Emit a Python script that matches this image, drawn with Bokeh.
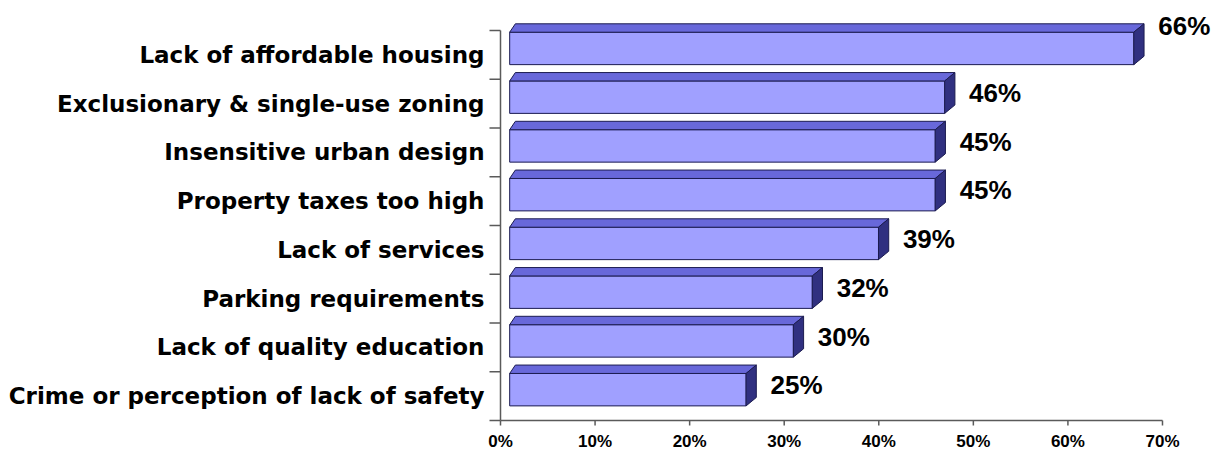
from bokeh.plotting import figure
from bokeh.models import FixedTicker, Range1d
from bokeh.embed import file_html
from bokeh.resources import INLINE
from bokeh.core.properties import value

# ---------------- data ----------------
categories = [
    "Lack of affordable housing",
    "Exclusionary & single-use zoning",
    "Insensitive urban design",
    "Property taxes too high",
    "Lack of services",
    "Parking requirements",
    "Lack of quality education",
    "Crime or perception of lack of safety",
]
percents = [66, 46, 45, 45, 39, 32, 30, 25]
x_ticks = [0, 10, 20, 30, 40, 50, 60, 70]
x_tick_labels = ["0%", "10%", "20%", "30%", "40%", "50%", "60%", "70%"]

# ---------------- styling / geometry ----------------
FRONT = "#A0A0FF"
TOP = "#6868DA"
SIDE = "#303080"
EDGE = "#1C1C50"
AXIS = "#5A5A5A"

W, H = 1219, 450
AXIS_X = 500      # pixel column of the 0% line
FRAME_LEFT = 486
AXIS_Y = 420      # pixel row of the value axis
PX_X = 9.457      # pixels per percent
PX_Y = 48.75      # pixels per category row
SHIFT = 0.97      # 3D shift of the front face (percent)
F_BOT, F_TOP = 0.30, 0.965
DY = 8.4 / PX_Y
DXL, DXR = 0.6, 1.08

n = len(categories)
rows = [n - 1 - i for i in range(n)]

p = figure(
    width=W, height=H,
    x_range=Range1d(-(AXIS_X - FRAME_LEFT) / PX_X, (W - AXIS_X) / PX_X),
    y_range=Range1d(-(H - AXIS_Y) / PX_Y, AXIS_Y / PX_Y),
    x_axis_location=None,
    output_backend="svg", toolbar_location=None,
    min_border_left=FRAME_LEFT, min_border_right=0,
    min_border_top=0, min_border_bottom=0,
)
p.outline_line_color = None
p.grid.visible = False
p.background_fill_color = "white"
p.border_fill_color = "white"

# ---------------- bars (3D look) ----------------
lefts = [SHIFT for _ in percents]
rights = [v + SHIFT for v in percents]
bots = [r + F_BOT for r in rows]
tops = [r + F_TOP for r in rows]

p.quad(left=lefts, right=rights, bottom=bots, top=tops,
       fill_color=FRONT, line_color=EDGE, line_width=1)

top_xs = [[l, l + DXL, r + DXR, r] for l, r in zip(lefts, rights)]
top_ys = [[t, t + DY, t + DY, t] for t in tops]
p.patches(top_xs, top_ys, fill_color=TOP, line_color=EDGE, line_width=1)

side_xs = [[r, r + DXR, r + DXR, r] for r in rights]
side_ys = [[t, t + DY, b + DY, b] for t, b in zip(tops, bots)]
p.patches(side_xs, side_ys, fill_color=SIDE, line_color=EDGE, line_width=1)

# value labels
vmax = max(percents)
lab_x = [v + 3.55 for v in percents]
lab_y = [r + (1.10 if v == vmax else 0.72) for r, v in zip(rows, percents)]
p.text(x=lab_x, y=lab_y, text=[f"{v}%" for v in percents],
       text_font=value("Liberation Sans"), text_font_style="bold",
       text_font_size="26px", text_color="black",
       text_align="left", text_baseline="middle")

# ---------------- category axis (labels from Bokeh axis, line drawn) ----------------
ya = p.yaxis[0]
ya.ticker = FixedTicker(ticks=[r + 0.5 for r in range(n)], minor_ticks=[])
ya.major_label_overrides = {r + 0.5: c for r, c in zip(rows, categories)}
ya.major_tick_out = 0
ya.major_tick_in = 0
ya.minor_tick_line_color = None
ya.axis_line_color = None
ya.major_label_text_font = "DejaVu Sans"
ya.major_label_text_font_style = "bold"
ya.major_label_text_font_size = "23px"
ya.major_label_text_color = "black"
ya.major_label_standoff = 2

cat_tick_len = 11 / PX_X
bounds = list(range(n + 1))
p.segment(x0=[0], y0=[0], x1=[0], y1=[n], line_color=AXIS, line_width=1.5)
p.segment(x0=[0] * len(bounds), y0=bounds, x1=[-cat_tick_len] * len(bounds),
          y1=bounds, line_color=AXIS, line_width=1.5)

# ---------------- value axis (drawn in the frame) ----------------
tick_len = 5 / PX_Y
p.segment(x0=[x_ticks[0]], y0=[0], x1=[x_ticks[-1]], y1=[0],
          line_color=AXIS, line_width=1.5)
p.segment(x0=x_ticks, y0=[0] * len(x_ticks), x1=x_ticks,
          y1=[-tick_len] * len(x_ticks), line_color=AXIS, line_width=1.5)
p.text(x=x_ticks, y=[-11 / PX_Y] * len(x_ticks), text=x_tick_labels,
       text_font=value("Liberation Sans"), text_font_style="bold",
       text_font_size="17px", text_color="black",
       text_align="center", text_baseline="top")

open("out.html", "w").write(file_html(p, INLINE))
